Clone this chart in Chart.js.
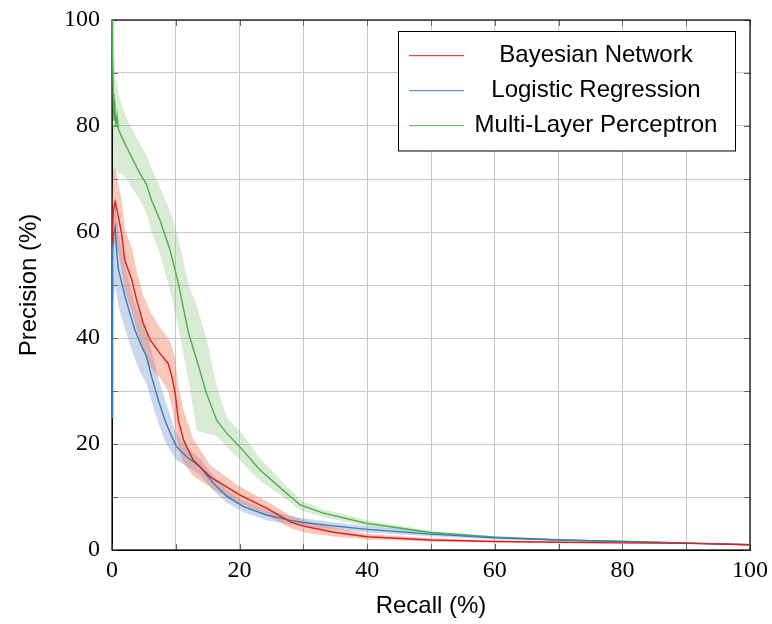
<!DOCTYPE html>
<html>
<head>
<meta charset="utf-8">
<script src="https://cdn.jsdelivr.net/npm/chart.js@4.4.0/dist/chart.umd.min.js"></script>
<style>
  body { margin: 0; background: #fff; }
</style>
</head>
<body>
<canvas id="prChart" width="772" height="624"></canvas>
<script>
// tick labels
const xTickLabels = [0, 20, 40, 60, 80, 100];
const yTickLabels = [0, 20, 40, 60, 80, 100];

// Bayesian Network
const bnRecall    = [0, 0.2, 0.5, 1, 1.5, 2, 3.1, 3.9, 4.9, 6, 7.5, 8.8, 9.4, 9.9, 10.4, 11.2, 12.7, 15.4, 20, 24.2, 28, 30, 35, 40, 50, 60, 70, 80, 90, 100];
const bnPrecision = [58, 64, 65.7, 62.9, 59.7, 54.7, 51, 47, 42.8, 39.6, 37.1, 35.2, 32.7, 29.6, 24.5, 20.8, 17, 13.8, 10.4, 7.9, 5.3, 4.5, 3.3, 2.5, 1.9, 1.6, 1.45, 1.35, 1.25, 1.0];
const bnUpper     = [66, 72, 72, 69, 66, 60.5, 57, 52.5, 48, 45, 42, 40, 38.5, 36, 31, 26.5, 21, 16, 12, 9.2, 6.5, 5.6, 4.2, 3.0, 2.2, 1.8, 1.6, 1.45, 1.3, 1.0];
const bnLower     = [50, 56, 58, 56, 53, 49, 45, 41.5, 37.5, 34.5, 32.5, 30, 27, 23, 19, 16.5, 14, 11.8, 8.8, 6.6, 4.1, 3.3, 2.5, 2.0, 1.6, 1.4, 1.3, 1.25, 1.2, 1.0];

// Logistic Regression
const lrRecall    = [0, 0.05, 0.15, 0.3, 0.5, 0.75, 1.0, 1.5, 2.0, 2.6, 3.6, 4.65, 5.4, 6.2, 7.26, 8.3, 9.36, 10.1, 11.7, 13.8, 15.9, 18, 20.6, 24.2, 28, 30, 35, 40, 50, 60, 70, 80, 90, 100];
const lrPrecision = [25, 45, 57, 60, 61, 56, 53, 50.5, 48, 45.5, 41.5, 38.4, 36.5, 32.7, 28.3, 24.5, 21.4, 19.5, 17.6, 15.7, 12.6, 10.1, 8.2, 6.6, 5.6, 5.2, 4.5, 3.9, 3.0, 2.3, 1.9, 1.6, 1.35, 1.0];
const lrUpper     = [30, 55, 64, 66, 66, 63, 60, 57, 54, 51, 46.5, 43.5, 41.5, 37.5, 32.5, 28.5, 24.5, 22, 19.5, 17.2, 14, 11.3, 9.3, 7.6, 6.4, 6.0, 5.2, 4.5, 3.4, 2.6, 2.1, 1.75, 1.45, 1.0];
const lrLower     = [20, 35, 45, 48, 50, 48, 46, 44, 42, 39.5, 36, 33, 31.5, 28, 24, 20.5, 18.3, 17, 15.7, 14.2, 11.2, 8.9, 7.1, 5.6, 4.8, 4.4, 3.8, 3.3, 2.6, 2.0, 1.7, 1.45, 1.25, 1.0];

// Multi-Layer Perceptron
const mlpRecall    = [0, 0.1, 0.2, 0.3, 0.4, 0.6, 0.8, 1, 1.5, 2.3, 3.3, 4.4, 5.4, 6.2, 7.5, 9.1, 10.4, 12, 13.3, 14.8, 16.4, 18, 20, 23.2, 26.8, 29.5, 33, 40, 50, 60, 70, 80, 90, 100];
const mlpPrecision = [100, 92, 86, 81, 85, 80, 82, 79.5, 78, 76, 73.6, 71, 69, 66, 62.3, 56.6, 50.3, 40.9, 35.8, 29.6, 24.5, 22, 19.5, 15.1, 11.3, 8.5, 7.0, 5.0, 3.3, 2.4, 1.9, 1.6, 1.3, 1.0];
const mlpUpper     = [100, 98, 96, 92, 93, 89, 88, 86, 84, 81.5, 79, 76.5, 74.5, 72, 68.5, 64, 59, 50, 46, 40, 31, 25, 22.5, 17.3, 12.8, 9.5, 7.7, 5.6, 3.6, 2.6, 2.0, 1.7, 1.35, 1.0];
const mlpLower     = [100, 80, 74, 70, 72, 70, 72, 71, 71, 70, 68, 66, 63.5, 60, 56, 49, 42, 32, 22.5, 22, 21.5, 19.5, 17, 13, 10, 7.5, 6.3, 4.4, 3.0, 2.2, 1.8, 1.5, 1.25, 1.0];

const seriesNames = ['Bayesian Network', 'Logistic Regression', 'Multi-Layer Perceptron'];
const lineColors = ['#e41a1c', '#377eb8', '#4daf4a'];
const bandColors = ['rgba(238,118,82,0.4)', 'rgba(110,140,205,0.35)', 'rgba(130,190,115,0.3)'];

function toPoints(xs, ys) {
  return xs.map((x, i) => ({ x: x, y: ys[i] }));
}

const series = [
  [bnRecall, bnPrecision, bnUpper, bnLower],
  [lrRecall, lrPrecision, lrUpper, lrLower],
  [mlpRecall, mlpPrecision, mlpUpper, mlpLower]
];

const datasets = [];
series.forEach((s, i) => {
  // band: upper filled down to lower
  datasets.push({
    label: seriesNames[i] + ' upper',
    data: toPoints(s[0], s[2]),
    borderWidth: 0,
    pointRadius: 0,
    backgroundColor: bandColors[i],
    fill: '+1',
    order: 10,
    isBand: true
  });
  datasets.push({
    label: seriesNames[i] + ' lower',
    data: toPoints(s[0], s[3]),
    borderWidth: 0,
    pointRadius: 0,
    fill: false,
    order: 10,
    isBand: true
  });
});
series.forEach((s, i) => {
  datasets.push({
    label: seriesNames[i],
    data: toPoints(s[0], s[1]),
    borderColor: lineColors[i],
    borderWidth: 1.4,
    pointRadius: 0,
    fill: false,
    order: 1,
    clip: false
  });
});

// frame + inward tick marks, like pgfplots
const framePlugin = {
  id: 'frame',
  beforeDatasetsDraw(chart) {
    const { ctx, chartArea: a, scales } = chart;
    ctx.save();
    ctx.strokeStyle = '#666';
    ctx.lineWidth = 1;
    for (let v = 0; v <= 100; v += 10) {
      const px = Math.round(scales.x.getPixelForValue(v)) + 0.5;
      const py = Math.round(scales.y.getPixelForValue(v)) + 0.5;
      ctx.beginPath();
      ctx.moveTo(px, a.bottom); ctx.lineTo(px, a.bottom - 6);
      ctx.moveTo(px, a.top); ctx.lineTo(px, a.top + 6);
      ctx.moveTo(a.left, py); ctx.lineTo(a.left + 6, py);
      ctx.moveTo(a.right, py); ctx.lineTo(a.right - 6, py);
      ctx.stroke();
    }
    ctx.strokeStyle = '#000';
    ctx.lineWidth = 1.2;
    ctx.strokeRect(a.left, a.top, a.right - a.left, a.bottom - a.top);
    ctx.restore();
  }
};

const legendBoxPlugin = {
  id: 'legendBox',
  afterDatasetsDraw(chart) {
    const ctx = chart.ctx;
    const lines = chart.data.datasets.filter(d => !d.isBand);
    const x0 = 398.5, y0 = 31.5, w = 337, h = 119.5;
    ctx.save();
    ctx.fillStyle = '#fff';
    ctx.fillRect(x0, y0, w, h);
    ctx.strokeStyle = '#000';
    ctx.lineWidth = 1;
    ctx.strokeRect(x0, y0, w, h);
    ctx.font = '24px "Liberation Sans", Arial, sans-serif';
    ctx.textAlign = 'center';
    ctx.textBaseline = 'alphabetic';
    lines.forEach((d, i) => {
      const yMid = 55.7 + i * 35;
      ctx.strokeStyle = d.borderColor;
      ctx.lineWidth = 1;
      ctx.beginPath();
      ctx.moveTo(409, yMid);
      ctx.lineTo(464, yMid);
      ctx.stroke();
      ctx.fillStyle = '#000';
      ctx.fillText(d.label, 596, yMid + 6);
    });
    ctx.restore();
  }
};

const tickFont = { family: '"Liberation Serif", "Times New Roman", serif', size: 24 };
const titleFont = { family: '"Liberation Sans", Arial, sans-serif', size: 24 };

new Chart(document.getElementById('prChart').getContext('2d'), {
  type: 'line',
  data: { datasets: datasets },
  options: {
    responsive: false,
    animation: false,
    devicePixelRatio: 1,
    layout: { padding: { left: 0, right: 22, top: 20, bottom: 0 } },
    elements: { line: { tension: 0 } },
    plugins: {
      legend: { display: false },
      tooltip: { enabled: false }
    },
    scales: {
      x: {
        type: 'linear',
        min: 0,
        max: 100,
        afterFit(scale) { scale.height = 74; scale.paddingLeft = 0; scale.paddingRight = 0; },
        ticks: {
          stepSize: 10,
          autoSkip: false,
          maxRotation: 0,
          padding: 6,
          color: '#000',
          font: tickFont,
          callback: v => xTickLabels.includes(v) ? String(v) : ''
        },
        grid: { color: '#c8c8c8', lineWidth: 1, drawTicks: false },
        border: { display: true, color: '#000', width: 1 },
        title: { display: true, text: 'Recall (%)', color: '#000', font: titleFont, padding: { top: 0, bottom: 3 } }
      },
      y: {
        type: 'linear',
        min: 0,
        max: 100,
        afterFit(scale) { scale.width = 112; scale.paddingTop = 0; scale.paddingBottom = 0; },
        ticks: {
          stepSize: 10,
          autoSkip: false,
          padding: 12,
          color: '#000',
          font: tickFont,
          callback: v => yTickLabels.includes(v) ? String(v) : ''
        },
        grid: { color: '#c8c8c8', lineWidth: 1, drawTicks: false },
        border: { display: true, color: '#000', width: 1 },
        title: { display: true, text: 'Precision (%)', color: '#000', font: titleFont, padding: { top: 15, bottom: 0 } }
      }
    }
  },
  plugins: [framePlugin, legendBoxPlugin]
});
</script>
</body>
</html>
